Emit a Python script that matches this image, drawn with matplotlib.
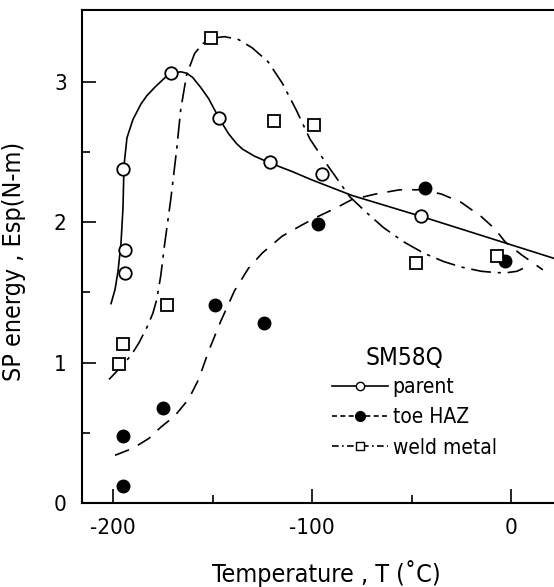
import matplotlib.pyplot as plt

plt.rcParams['font.family'] = ['DejaVu Sans']
plt.rcParams['font.stretch'] = 'condensed'

# measured points
parent_T = [-195, -194, -194, -171, -147, -121, -95, -45]
parent_E = [2.38, 1.80, 1.64, 3.06, 2.74, 2.43, 2.34, 2.04]
haz_T = [-195, -195, -175, -149, -124, -97, -43, -3]
haz_E = [0.12, 0.48, 0.68, 1.41, 1.28, 1.99, 2.24, 1.72]
weld_T = [-197, -195, -173, -151, -119, -99, -48, -7]
weld_E = [0.99, 1.13, 1.41, 3.31, 2.72, 2.69, 1.71, 1.76]

# hand-drawn fit curves
parent_fit_T = [-201, -199, -197.5, -196, -195, -194.5, -193, -190, -186, -183, -179, -176,
                -173, -170, -166, -163, -160, -156, -152, -149, -145, -142, -138, -135,
                -129, -121, -110, -100, -80, -45, 22]
parent_fit_E = [1.42, 1.52, 1.65, 1.85, 2.1, 2.4, 2.6, 2.73, 2.84, 2.9, 2.96, 3.0,
                3.04, 3.06, 3.07, 3.06, 3.03, 2.96, 2.88, 2.8, 2.7, 2.63, 2.56, 2.52,
                2.47, 2.42, 2.36, 2.3, 2.19, 2.04, 1.74]
haz_fit_T = [-199, -190, -182, -176, -169, -162, -157, -152, -146, -139, -132, -125,
             -115, -105, -97, -88, -80, -68, -56, -45, -35, -25, -15, -8, -3, 5, 16]
haz_fit_E = [0.34, 0.39, 0.46, 0.54, 0.62, 0.74, 0.88, 1.08, 1.29, 1.51, 1.67, 1.78,
             1.9, 1.98, 2.04, 2.1, 2.16, 2.2, 2.23, 2.23, 2.2, 2.14, 2.04, 1.95, 1.86, 1.77, 1.66]
weld_fit_T = [-202, -196, -191, -187, -183, -180, -178, -176, -174, -171, -168, -166,
              -163, -159, -155, -150, -144, -137, -130, -122, -115, -108, -101, -92,
              -81, -72, -64, -54, -44, -34, -25, -15, -7, -2, 3, 6]
weld_fit_E = [0.88, 0.97, 1.05, 1.14, 1.25, 1.35, 1.45, 1.62, 1.85, 2.16, 2.52, 2.8,
              3.05, 3.2, 3.27, 3.31, 3.32, 3.3, 3.24, 3.14, 2.99, 2.8, 2.59, 2.4,
              2.18, 2.06, 1.96, 1.86, 1.78, 1.72, 1.68, 1.65, 1.64, 1.64, 1.65, 1.67]

fig = plt.figure(figsize=(5.54, 5.87), dpi=100)
ax = fig.add_axes([0.148, 0.143, 0.852, 0.840])

lw = 1.2
ax.plot(parent_fit_T, parent_fit_E, color='black', lw=lw)
ax.plot(haz_fit_T, haz_fit_E, color='black', lw=lw, dashes=(9, 6))
ax.plot(weld_fit_T, weld_fit_E, color='black', lw=lw, dashes=(12, 4, 2, 4))

ax.plot(parent_T, parent_E, 'o', mfc='white', mec='black', mew=1.3, ms=9)
ax.plot(haz_T, haz_E, 'o', mfc='black', mec='black', ms=9)
ax.plot(weld_T, weld_E, 's', mfc='white', mec='black', mew=1.3, ms=8.5)

# legend handles
h1, = ax.plot([], [], color='black', lw=lw, marker='o', mfc='white', mec='black', ms=6)
h2, = ax.plot([], [], color='black', lw=lw, dashes=(3, 2), marker='o', mfc='black', ms=7)
h3, = ax.plot([], [], color='black', lw=lw, dashes=(4, 2, 1, 2), marker='s', mfc='white', mec='black', ms=6)
ax.legend([h1, h2, h3], ['parent', 'toe HAZ', 'weld metal'],
          loc='upper left', bbox_to_anchor=(0.53, 0.256), frameon=False,
          fontsize=15, handlelength=2.7, handletextpad=0.2,
          labelspacing=0.5, borderpad=0, borderaxespad=0)
ax.text(0.60, 0.295, 'SM58Q', transform=ax.transAxes, fontsize=17.5, ha='left', va='center')

ax.set_xlim(-215.6, 21.6)
ax.set_ylim(0, 3.51)
ax.set_xticks([-200, -100, 0])
ax.set_xticklabels(['-200', '-100', '0'])
ax.set_xticks([-150, -50], minor=True)
ax.set_yticks([0, 1, 2, 3])
ax.set_yticks([0.5, 1.5, 2.5], minor=True)
ax.tick_params(which='major', direction='in', length=10, width=1.2, labelsize=16, pad=11)
ax.tick_params(which='minor', direction='in', length=6, width=1.2)
ax.spines['right'].set_visible(False)
for s in ['left', 'bottom', 'top']:
    ax.spines[s].set_linewidth(1.5)

ax.set_xlabel('Temperature , T (˚C)', fontsize=18)
ax.set_ylabel('SP energy , Esp(N-m)', fontsize=18)
ax.xaxis.set_label_coords(0.517, -0.115)
ax.yaxis.set_label_coords(-0.118, 0.49)

fig.savefig('out.png', dpi=100)
